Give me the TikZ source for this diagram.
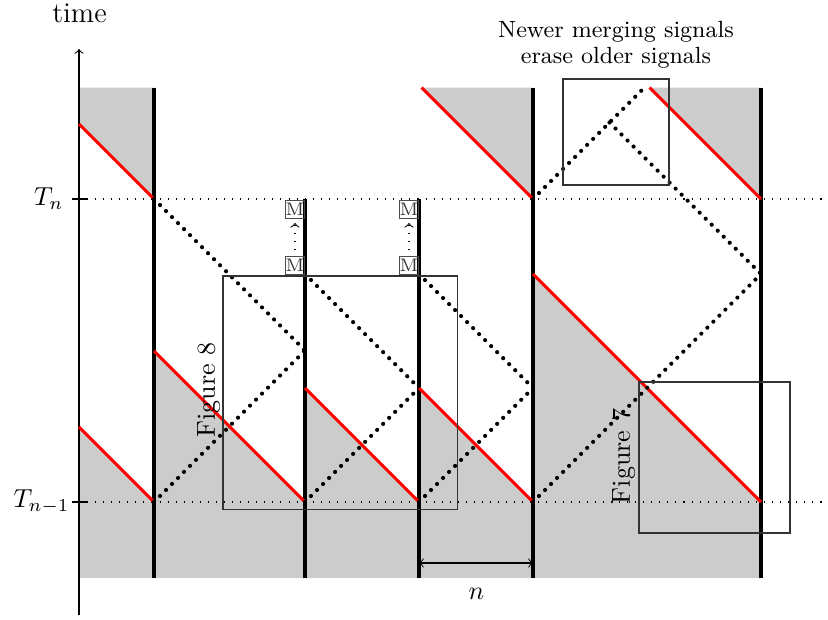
\documentclass[tikz,border=0pt]{standalone}
\begin{document}
\begin{tikzpicture}[x=0.3846pt,y=-0.3846pt,
  shade/.style={fill=black!20},
  sig/.style={red,line width=1.2pt},
  wall/.style={line width=1.6pt},
  merge/.style={line width=1.6pt,line cap=round,dash pattern=on 0pt off 3.27pt},
  level/.style={line width=0.4pt,dash pattern=on 0.4pt off 2.7pt},
  frame/.style={draw=black!80,line width=0.6pt},
  mbox/.style={draw=black!70,line width=0.5pt,inner sep=0pt,minimum size=7pt,
    font=\fontsize{7}{7}\selectfont,text=black!80},
  figlabel/.style={rotate=90,inner sep=0pt,font=\fontsize{10}{12}\selectfont},
]
\useasboundingbox (0,0) rectangle (828,620);

% gray regions
\fill[shade] (79,87.5) -- (154,87.5) -- (154,199) -- (79,124) -- cycle;
\fill[shade] (79,427) -- (154,502) -- (154,578) -- (79,578) -- cycle;
\fill[shade] (154,351) -- (305,502) -- (305,578) -- (154,578) -- cycle;
\fill[shade] (305,388) -- (419,502) -- (419,578) -- (305,578) -- cycle;
\fill[shade] (421.5,87.5) -- (533,87.5) -- (533,199) -- cycle;
\fill[shade] (419,388) -- (533,502) -- (533,578) -- (419,578) -- cycle;
\fill[shade] (649.5,87.5) -- (761,87.5) -- (761,199) -- cycle;
\fill[shade] (533,274) -- (761,502) -- (761,578) -- (533,578) -- cycle;

% time levels
\coordinate (lv1a) at (87,199);  \coordinate (lv1b) at (828,199);
\coordinate (lv2a) at (87,502);  \coordinate (lv2b) at (828,502);
\draw[level] (lv1a) -- (lv1b);
\draw[level] (lv2a) -- (lv2b);

% axis
\coordinate (axb) at (79,615); \coordinate (axt) at (79,49);
\draw[line width=0.4pt,->] (axb) -- (axt);
\coordinate (tk1a) at (72,199); \coordinate (tk1b) at (87,199);
\coordinate (tk2a) at (72,502); \coordinate (tk2b) at (87,502);
\draw[line width=0.4pt] (tk1a) -- (tk1b);
\draw[line width=0.4pt] (tk2a) -- (tk2b);
\node[font=\fontsize{11}{13}\selectfont] (time) at (79.5,13) {time};
\node[anchor=east,inner sep=0pt] (Tn) at (64,199) {$T_n$};
\node[anchor=east,inner sep=0pt] (Tn1) at (70,502) {$T_{n-1}$};

% walls
\coordinate (w1t) at (154,87.5); \coordinate (w1b) at (154,578);
\coordinate (w2t) at (305,199);  \coordinate (w2b) at (305,578);
\coordinate (w3t) at (419,199);  \coordinate (w3b) at (419,578);
\coordinate (w4t) at (533,87.5); \coordinate (w4b) at (533,578);
\coordinate (w5t) at (761,87.5); \coordinate (w5b) at (761,578);
\foreach \w in {1,...,5} \draw[wall] (w\w t) -- (w\w b);

% red signals
\coordinate (r1a) at (79,124);    \coordinate (r1b) at (154,199);
\coordinate (r2a) at (79,427);    \coordinate (r2b) at (154,502);
\coordinate (r3a) at (154,351);   \coordinate (r3b) at (305,502);
\coordinate (r4a) at (305,388);   \coordinate (r4b) at (419,502);
\coordinate (r5a) at (419,388);   \coordinate (r5b) at (533,502);
\coordinate (r6a) at (533,274);   \coordinate (r6b) at (761,502);
\coordinate (r7a) at (421.5,87.5);\coordinate (r7b) at (533,199);
\coordinate (r8a) at (649.5,87.5);\coordinate (r8b) at (761,199);
\foreach \r in {1,...,8} \draw[sig] (r\r a) -- (r\r b);

% merging signals
\coordinate (d1a) at (154,199);   \coordinate (d1b) at (305,350.5);
\coordinate (d2a) at (154,502);   \coordinate (d2b) at (305,350.5);
\coordinate (d3a) at (305,274);   \coordinate (d3b) at (419,388);
\coordinate (d4a) at (305,502);   \coordinate (d4b) at (419,388);
\coordinate (d5a) at (419,274);   \coordinate (d5b) at (533,388);
\coordinate (d6a) at (419,502);   \coordinate (d6b) at (533,388);
\coordinate (d7a) at (533,502);   \coordinate (d7b) at (761,274);
\coordinate (d8a) at (533,199);   \coordinate (d8b) at (644.5,87.5);
\coordinate (d9a) at (609.5,122.5);\coordinate (d9b) at (761,274);
\foreach \d in {1,...,9} \draw[merge] (d\d a) -- (d\d b);

% M boxes
\node[mbox,anchor=north east] (m1t) at (305,199.5) {M};
\node[mbox,anchor=south east] (m1b) at (305,275) {M};
\node[mbox,anchor=north east] (m2t) at (419,199.5) {M};
\node[mbox,anchor=south east] (m2b) at (419,275) {M};
\draw[level,->,shorten <=2pt,shorten >=1.5pt] (m1b) -- (m1t);
\draw[level,->,shorten <=2pt,shorten >=1.5pt] (m2b) -- (m2t);

% figure frames
\coordinate (f8a) at (223,276);   \coordinate (f8b) at (457.5,509.5);
\coordinate (f7a) at (639,382);   \coordinate (f7b) at (790,533);
\coordinate (nwa) at (563,79);    \coordinate (nwb) at (669,185);
\draw[frame] (f8a) rectangle (f8b);
\draw[frame] (f7a) rectangle (f7b);
\draw[frame] (nwa) rectangle (nwb);
\node[figlabel] (fig8) at (208.6,390) {Figure 8};
\node[figlabel] (fig7) at (623.6,456.5) {Figure 7};
\node[align=center,inner sep=0pt,font=\fontsize{9}{9.8}\selectfont] (note) at (616,45)
  {Newer merging signals\\erase older signals};

% width n
\coordinate (na) at (419,563); \coordinate (nb) at (533,563);
\draw[line width=0.4pt,<->] (na) -- (nb);
\node (nlab) at (476.5,594) {$n$};
\end{tikzpicture}
\end{document}
